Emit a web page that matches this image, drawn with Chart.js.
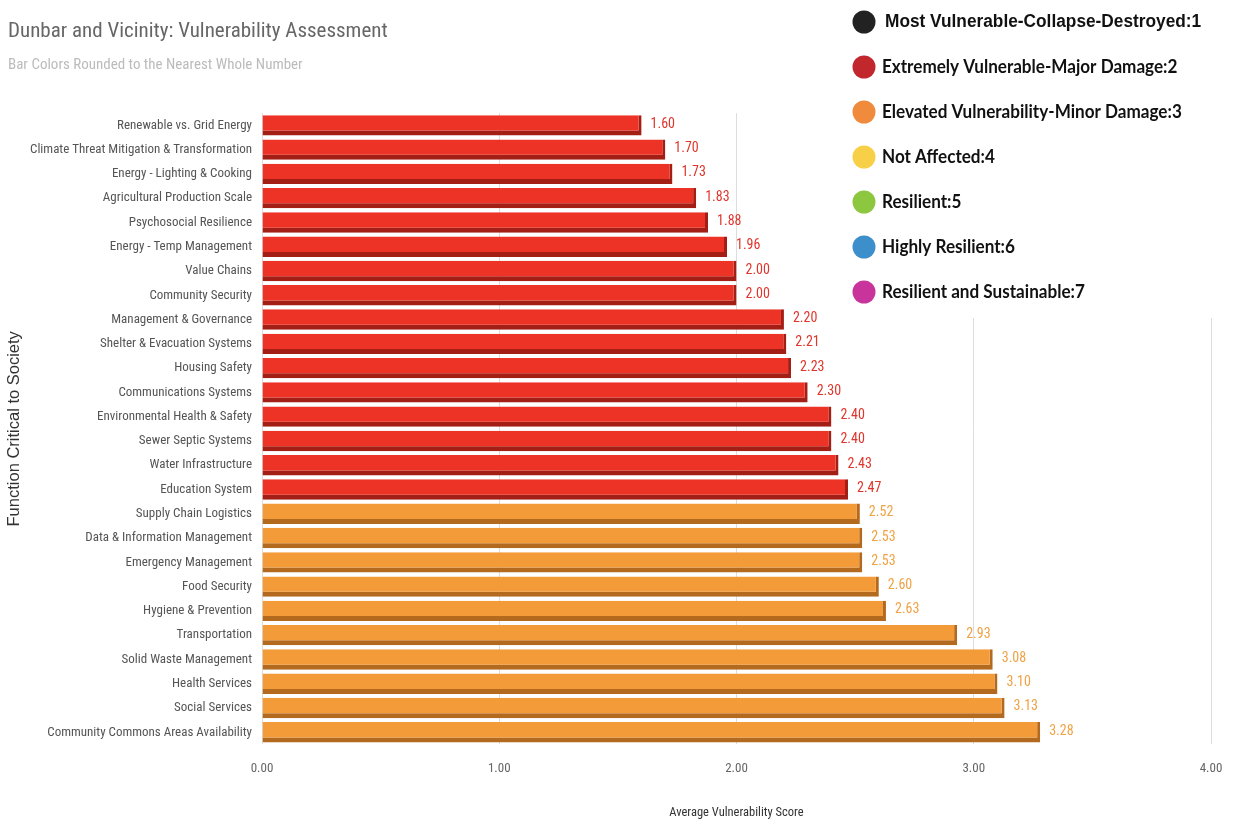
<!DOCTYPE html>
<html>
<head>
<meta charset="utf-8">
<script src="https://cdn.jsdelivr.net/npm/chart.js@4.4.1/dist/chart.umd.min.js"></script>
<style>
  html, body { margin: 0; padding: 0; background: #fff; }
  #wrap { width: 1233px; height: 821px; position: relative; }
</style>
</head>
<body>
<div id="wrap"><canvas id="chart"></canvas></div>
<script>
// data
const functions = [
  "Renewable vs. Grid Energy",
  "Climate Threat Mitigation & Transformation",
  "Energy - Lighting & Cooking",
  "Agricultural Production Scale",
  "Psychosocial Resilience",
  "Energy - Temp Management",
  "Value Chains",
  "Community Security",
  "Management & Governance",
  "Shelter & Evacuation Systems",
  "Housing Safety",
  "Communications Systems",
  "Environmental Health & Safety",
  "Sewer Septic Systems",
  "Water Infrastructure",
  "Education System",
  "Supply Chain Logistics",
  "Data & Information Management",
  "Emergency Management",
  "Food Security",
  "Hygiene & Prevention",
  "Transportation",
  "Solid Waste Management",
  "Health Services",
  "Social Services",
  "Community Commons Areas Availability"
];
const scores = [1.60, 1.70, 1.73, 1.83, 1.88, 1.96, 2.00, 2.00, 2.20, 2.21, 2.23, 2.30, 2.40, 2.40,
                2.43, 2.47, 2.52, 2.53, 2.53, 2.60, 2.63, 2.93, 3.08, 3.10, 3.13, 3.28];
const xTicks = [0, 1, 2, 3, 4];

const legendLabels = [
  "Most Vulnerable-Collapse-Destroyed:1",
  "Extremely Vulnerable-Major Damage:2",
  "Elevated Vulnerability-Minor Damage:3",
  "Not Affected:4",
  "Resilient:5",
  "Highly Resilient:6",
  "Resilient and Sustainable:7"
];
const legendColors = ["#222222", "#c1272d", "#f08a3c", "#f7d047", "#8dc63f", "#3d8fcc", "#c9339c"];

// bar colours by rounded score
const barFill = { 1: "#333333", 2: "#ec3326", 3: "#f29b38" };
const barEdge = { 1: "#111111", 2: "#a31f16", 3: "#b36a1f" };
const labelColor = { 1: "#333333", 2: "#e0352b", 3: "#f0a244" };

const narrow = '"Liberation Sans Narrow", "Roboto Condensed", "DejaVu Sans Condensed", Roboto, sans-serif';

const valueLabels = {
  id: "valueLabels",
  afterDatasetsDraw(chart) {
    const ctx = chart.ctx;
    const meta = chart.getDatasetMeta(0);
    ctx.save();
    ctx.font = "14px " + narrow;
    ctx.textBaseline = "middle";
    ctx.textAlign = "left";
    meta.data.forEach((bar, i) => {
      ctx.fillStyle = labelColor[Math.round(scores[i])];
      ctx.fillText(scores[i].toFixed(2), bar.x + 9, bar.y - 1);
    });
    ctx.restore();
  }
};

const sideLegend = {
  id: "sideLegend",
  afterDraw(chart) {
    const ctx = chart.ctx;
    ctx.save();
    ctx.fillStyle = "#fff";
    ctx.fillRect(845, 0, 388, 318);
    legendLabels.forEach((txt, i) => {
      const y = 22 + i * 45;
      ctx.beginPath();
      ctx.arc(864, y, 11.5, 0, Math.PI * 2);
      ctx.fillStyle = legendColors[i];
      ctx.fill();
      ctx.fillStyle = "#111";
      ctx.textBaseline = "middle";
      // squeeze the text a little, the original face is narrower
      ctx.save();
      if (i === 0) {
        ctx.font = "bold 18px 'Liberation Sans', Arial, sans-serif";
        ctx.translate(885, y);
        ctx.scale(0.96, 1);
      } else {
        ctx.font = "bold 19px Lato, sans-serif";
        ctx.translate(882, y);
        ctx.scale(0.9, 1);
      }
      ctx.fillText(txt, 0, 0);
      ctx.restore();
    });
    ctx.restore();
  }
};

new Chart(document.getElementById("chart"), {
  type: "bar",
  data: {
    labels: functions,
    datasets: [{
      data: scores,
      backgroundColor: scores.map(v => barFill[Math.round(v)]),
      borderColor: scores.map(v => barEdge[Math.round(v)]),
      borderWidth: { top: 0, right: 3, bottom: 5, left: 0 },
      borderSkipped: "start",
      barPercentage: 0.84,
      categoryPercentage: 1
    }]
  },
  options: {
    indexAxis: "y",
    responsive: true,
    maintainAspectRatio: false,
    animation: false,
    layout: { padding: { top: 0, right: 22, bottom: 0, left: 8 } },
    plugins: {
      legend: { display: false },
      tooltip: { enabled: false },
      title: {
        display: true,
        text: "Dunbar and Vicinity: Vulnerability Assessment",
        align: "start",
        color: "#666",
        font: { family: narrow, size: 21, weight: "normal" },
        padding: { top: 19, bottom: 8 }
      },
      subtitle: {
        display: true,
        text: "Bar Colors Rounded to the Nearest Whole Number",
        align: "start",
        color: "#bbb",
        font: { family: narrow, size: 15, weight: "normal" },
        padding: { top: 4, bottom: 39 }
      }
    },
    scales: {
      x: {
        min: 0,
        max: 4,
        afterBuildTicks: s => { s.ticks = xTicks.map(v => ({ value: v })); },
        grid: { color: "#dddddd", drawTicks: true, tickLength: 15, tickColor: "rgba(0,0,0,0)" },
        border: { display: false },
        ticks: {
          padding: 2,
          color: "#666",
          font: { family: narrow, size: 13 },
          callback: v => v.toFixed(2)
        },
        title: {
          display: true,
          text: "Average Vulnerability Score",
          color: "#333",
          font: { family: narrow, size: 12.5 },
          padding: { top: 26, bottom: 1 }
        }
      },
      y: {
        afterFit: s => { s.width = 254; },
        grid: { display: false, drawTicks: false },
        border: { display: false },
        ticks: {
          padding: 10,
          color: "#555",
          autoSkip: false,
          font: { family: narrow, size: 13 }
        },
        title: {
          display: true,
          text: "Function Critical to Society",
          color: "#333",
          font: { family: "'Liberation Sans', Arial, sans-serif", size: 16.5 },
          padding: { top: -3, bottom: 0 }
        }
      }
    }
  },
  plugins: [valueLabels, sideLegend]
});
</script>
</body>
</html>
